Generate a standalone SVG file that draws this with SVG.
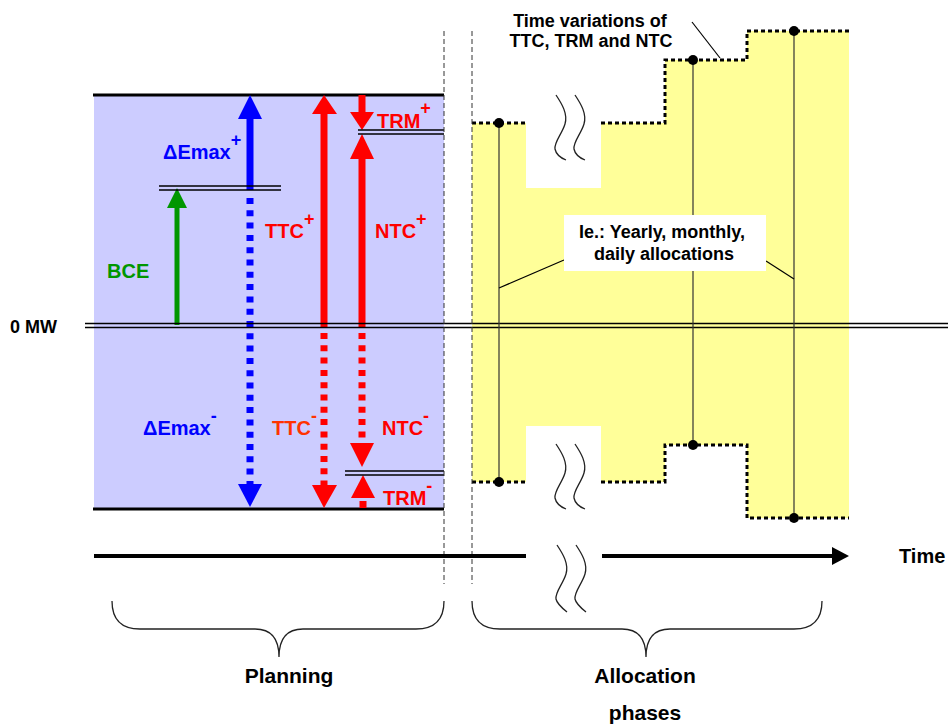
<svg xmlns="http://www.w3.org/2000/svg" width="948" height="724" viewBox="0 0 948 724">
<style>
text{font-family:"Liberation Sans",Arial,sans-serif;font-weight:bold}
.lbl{font-size:20px}
.sup{font-size:18px}
.blk{fill:#000}
.red{fill:#FF0000}
.org{fill:#FF3300}
.blu{fill:#0000FF}
.grn{fill:#009600}
.thin{stroke:#000;stroke-width:1.5;fill:none}
.vdash{stroke:#333;stroke-width:1;stroke-dasharray:5 3;fill:none}
.dotb{stroke:#000;stroke-width:3;stroke-dasharray:4 3;fill:none}
.sq{stroke:#222;stroke-width:1.3;fill:none}
.pole{stroke:#333;stroke-width:1.2}
</style>
<rect width="948" height="724" fill="#fff"/>

<g id="planning-area">
<rect x="94" y="95" width="350" height="414" fill="#CCCCFF"/>
<line x1="93" y1="95" x2="444" y2="95" stroke="#000" stroke-width="3"/>
<line x1="93" y1="509" x2="444" y2="509" stroke="#000" stroke-width="3"/>
</g>

<g id="allocation-area">
<polygon points="472,123 526,123 526,188 601,188 601,123 665,123 665,60 747,60 747,31 849,31 849,518 747,518 747,445 665,445 665,482 601,482 601,426 526,426 526,482 472,482" fill="#FFFF99"/>
<polyline class="dotb" points="472,123 526,123"/>
<polyline class="dotb" points="601,123 665,123 665,60 747,60 747,31 849,31"/>
<polyline class="dotb" points="472,482 526,482"/>
<polyline class="dotb" points="601,482 665,482 665,445 747,445 747,518 849,518"/>
<path class="sq" d="M556,95 C562,104 568,114 565,124 C562,134 554,142 555,149 C556,154 561,158 566,160"/>
<path class="sq" d="M575,95 C581,104 587,114 584,124 C581,134 573,142 574,149 C575,154 580,158 585,160"/>
<path class="sq" d="M556,444 C562,453 568,463 565,473 C562,483 554,491 555,498 C556,503 561,507 566,509"/>
<path class="sq" d="M575,444 C581,453 587,463 584,473 C581,483 573,491 574,498 C575,503 580,507 585,509"/>
</g>

<g id="connectors">
<!-- BCE -->
<line x1="177" y1="206" x2="177" y2="325" stroke="#009600" stroke-width="5"/>
<polygon points="177,188 167,208 187,208" fill="#009600"/>
<!-- Delta Emax -->
<line x1="250" y1="117" x2="250" y2="190" stroke="#0000FF" stroke-width="7"/>
<polygon points="250,95 238,119 262,119" fill="#0000FF"/>
<line x1="250" y1="198" x2="250" y2="485" stroke="#0000FF" stroke-width="7" stroke-dasharray="6 6.3"/>
<polygon points="250,507 238,484 262,484" fill="#0000FF"/>
<!-- TTC -->
<line x1="324" y1="112" x2="324" y2="327" stroke="#FF0000" stroke-width="7"/>
<polygon points="324,95 312,114 337,114" fill="#FF0000"/>
<line x1="324" y1="333" x2="324" y2="486" stroke="#FF0000" stroke-width="7" stroke-dasharray="6 6.3"/>
<polygon points="324,508 312,485 337,485" fill="#FF0000"/>
<!-- TRM+ -->
<line x1="362" y1="95" x2="362" y2="113" stroke="#FF0000" stroke-width="7"/>
<polygon points="362,130 350,112 374,112" fill="#FF0000"/>
<!-- NTC -->
<polygon points="362,134 350,159 374,159" fill="#FF0000"/>
<line x1="362" y1="157" x2="362" y2="327" stroke="#FF0000" stroke-width="7"/>
<line x1="362" y1="333" x2="362" y2="444" stroke="#FF0000" stroke-width="7" stroke-dasharray="6 6.3"/>
<polygon points="362,467 350,443 374,443" fill="#FF0000"/>
<!-- TRM- -->
<polygon points="363,475 351,498 375,498" fill="#FF0000"/>
<line x1="363" y1="501" x2="363" y2="508" stroke="#FF0000" stroke-width="7"/>
<!-- level lines -->
<line x1="159" y1="186" x2="281" y2="186" class="thin"/>
<line x1="159" y1="190" x2="281" y2="190" class="thin"/>
<line x1="358" y1="130" x2="444" y2="130" class="thin"/>
<line x1="358" y1="134" x2="444" y2="134" class="thin"/>
<line x1="345" y1="471" x2="444" y2="471" class="thin"/>
<line x1="345" y1="475" x2="444" y2="475" class="thin"/>
<!-- zero line -->
<line x1="85" y1="323.5" x2="948" y2="323.5" class="thin"/>
<line x1="85" y1="327.5" x2="948" y2="327.5" class="thin"/>
<!-- phase separators -->
<line x1="444" y1="31" x2="444" y2="584" class="vdash"/>
<line x1="472" y1="31" x2="472" y2="584" class="vdash"/>
<!-- allocation poles -->
<line x1="499" y1="123" x2="499" y2="482" class="pole"/>
<line x1="693" y1="60" x2="693" y2="445" class="pole"/>
<line x1="794" y1="31" x2="794" y2="518" class="pole"/>
<circle cx="499" cy="123" r="5"/>
<circle cx="499" cy="482" r="5"/>
<circle cx="693" cy="60" r="5"/>
<circle cx="693" cy="445" r="5"/>
<circle cx="794" cy="31" r="5"/>
<circle cx="794" cy="518" r="5"/>
<!-- callout lines -->
<line x1="692" y1="22" x2="720" y2="58" stroke="#000" stroke-width="1.2"/>
<line x1="499" y1="288" x2="564" y2="260" stroke="#000" stroke-width="1.2"/>
<line x1="766" y1="261" x2="794" y2="279" stroke="#000" stroke-width="1.2"/>
<!-- timeline -->
<line x1="94" y1="556" x2="526" y2="556" stroke="#000" stroke-width="4"/>
<line x1="602" y1="556" x2="834" y2="556" stroke="#000" stroke-width="4"/>
<polygon points="849,556 832,547 832,565" fill="#000"/>
<path class="sq" d="M557,545 C563,554 569,564 566,574 C563,584 555,592 556,599 C557,604 562,608 567,612"/>
<path class="sq" d="M576,545 C582,554 588,564 585,574 C582,584 574,592 575,599 C576,604 581,608 586,612"/>
<!-- braces -->
<path class="sq" d="M112,601 Q112,629 140,629 L255,629 Q279,629 279,657 Q279,629 303,629 L416,629 Q444,629 444,601"/>
<path class="sq" d="M472,601 Q472,629 500,629 L622,629 Q646,629 646,657 Q646,629 670,629 L794,629 Q822,629 822,601"/>
</g>

<g id="labels">
<text x="163" y="159" class="lbl blu">ΔEmax<tspan class="sup" dy="-13">+</tspan></text>
<text x="107" y="278" class="lbl grn">BCE</text>
<text x="265" y="238" class="lbl red" font-size="21">TTC<tspan class="sup" dy="-13">+</tspan></text>
<text x="375" y="238" class="lbl red">NTC<tspan class="sup" dy="-13">+</tspan></text>
<text x="377" y="128" class="lbl red">TRM<tspan class="sup" dy="-14">+</tspan></text>
<text x="143" y="435" class="lbl blu">ΔEmax<tspan class="sup" dy="-13">-</tspan></text>
<text x="272" y="435" class="lbl org">TTC<tspan class="sup" dy="-13">-</tspan></text>
<text x="382" y="435" class="lbl red">NTC<tspan class="sup" dy="-13">-</tspan></text>
<text x="383" y="505" class="lbl red">TRM<tspan class="sup" dy="-13">-</tspan></text>
<text x="10" y="333" font-size="18" class="blk">0 MW</text>
<text x="590" y="27" font-size="18" text-anchor="middle" class="blk">Time variations of</text>
<text x="591" y="47" font-size="18" text-anchor="middle" class="blk">TTC, TRM and NTC</text>
</g>

<g id="callout">
<rect x="564" y="215" width="202" height="56" fill="#fff"/>
<text x="662" y="238" font-size="18" text-anchor="middle" class="blk">Ie.: Yearly, monthly,</text>
<text x="664" y="260" font-size="18" text-anchor="middle" class="blk">daily allocations</text>
</g>

<g id="axis-labels">
<text x="899" y="563" font-size="20" class="blk">Time</text>
<text x="289" y="683" font-size="21" text-anchor="middle" class="blk">Planning</text>
<text x="645" y="683" font-size="21" text-anchor="middle" class="blk">Allocation</text>
<text x="645" y="720" font-size="21" text-anchor="middle" class="blk">phases</text>
</g>
</svg>
